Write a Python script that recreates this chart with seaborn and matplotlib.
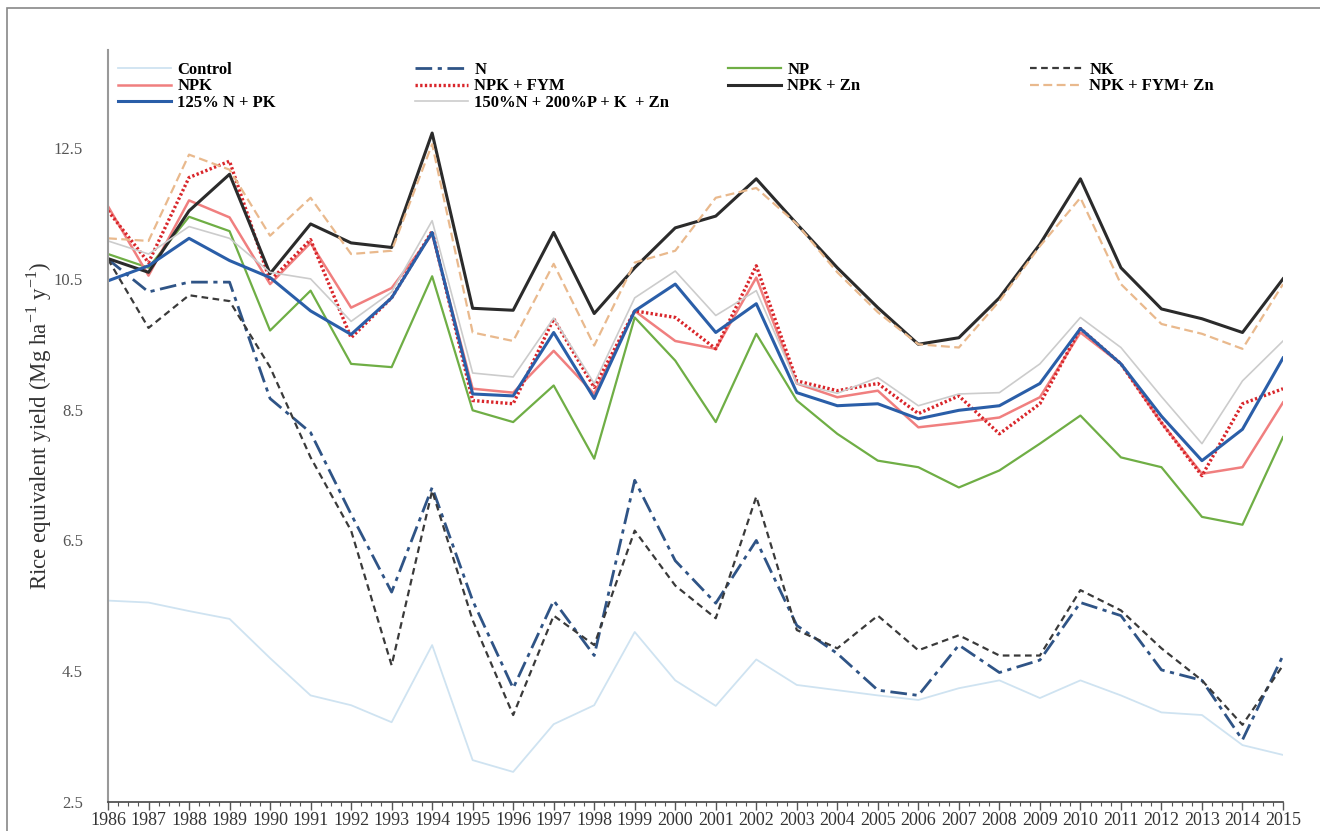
import numpy as np
import pandas as pd
import seaborn as sns
import matplotlib.pyplot as plt
from matplotlib.patches import Rectangle

years = list(range(1986, 2016))

control = [5.58, 5.55, 5.42, 5.3, 4.7, 4.13, 3.98, 3.72, 4.9, 3.14,
           2.96, 3.69, 3.98, 5.1, 4.36, 3.97, 4.68, 4.29, 4.21, 4.13,
           4.06, 4.24, 4.36, 4.09, 4.36, 4.13, 3.87, 3.83, 3.37, 3.22]
n = [10.8, 10.3, 10.45, 10.45, 8.67, 8.15, 6.9, 5.71, 7.31, 5.58,
     4.24, 5.58, 4.74, 7.42, 6.19, 5.54, 6.5, 5.2, 4.77, 4.21,
     4.13, 4.9, 4.48, 4.67, 5.55, 5.35, 4.52, 4.36, 3.45, 4.74]
np_ = [10.88, 10.67, 11.45, 11.23, 9.71, 10.32, 9.2, 9.15, 10.54, 8.49,
       8.31, 8.87, 7.75, 9.91, 9.25, 8.31, 9.66, 8.64, 8.13, 7.72,
       7.62, 7.31, 7.57, 7.98, 8.41, 7.77, 7.62, 6.86, 6.74, 8.08]
nk = [10.8, 9.75, 10.25, 10.16, 9.15, 7.77, 6.65, 4.59, 7.26, 5.28,
      3.83, 5.35, 4.9, 6.65, 5.81, 5.31, 7.17, 5.13, 4.85, 5.35,
      4.82, 5.05, 4.74, 4.74, 5.74, 5.43, 4.85, 4.36, 3.68, 4.59]
npk = [11.61, 10.55, 11.7, 11.44, 10.42, 11.05, 10.06, 10.36, 11.18, 8.82,
       8.76, 9.4, 8.74, 10.01, 9.55, 9.43, 10.52, 8.9, 8.69, 8.79,
       8.23, 8.3, 8.38, 8.69, 9.68, 9.2, 8.3, 7.52, 7.62, 8.61]
npk_fym = [11.54, 10.75, 12.05, 12.3, 10.47, 11.1, 9.6, 10.21, 11.23, 8.64,
           8.59, 9.89, 8.84, 10.01, 9.91, 9.43, 10.7, 8.94, 8.79, 8.9,
           8.44, 8.71, 8.13, 8.59, 9.74, 9.2, 8.3, 7.49, 8.59, 8.82]
npk_zn = [10.81, 10.6, 11.54, 12.1, 10.58, 11.34, 11.05, 10.98, 12.73, 10.05,
          10.02, 11.21, 9.97, 10.67, 11.28, 11.46, 12.03, 11.34, 10.67, 10.06,
          9.5, 9.6, 10.21, 11.03, 12.03, 10.67, 10.04, 9.89, 9.68, 10.5]
npk_fym_zn = [11.12, 11.08, 12.4, 12.17, 11.16, 11.74, 10.88, 10.93, 12.56, 9.68,
              9.55, 10.73, 9.48, 10.75, 10.93, 11.74, 11.89, 11.34, 10.6, 9.99,
              9.5, 9.45, 10.16, 11.0, 11.74, 10.42, 9.81, 9.66, 9.43, 10.42]
n125_pk = [10.47, 10.7, 11.12, 10.78, 10.52, 10.01, 9.65, 10.21, 11.21, 8.74,
           8.71, 9.68, 8.67, 10.01, 10.42, 9.68, 10.12, 8.76, 8.56, 8.59,
           8.36, 8.49, 8.56, 8.9, 9.74, 9.2, 8.4, 7.72, 8.2, 9.29]
n150_p200 = [11.08, 10.88, 11.3, 11.12, 10.6, 10.5, 9.85, 10.3, 11.39, 9.06,
             9.0, 9.9, 8.9, 10.21, 10.62, 9.94, 10.32, 8.9, 8.75, 8.99,
             8.56, 8.74, 8.76, 9.2, 9.91, 9.45, 8.7, 7.98, 8.94, 9.55]

labels = ['Control', 'N', 'NP', 'NK', 'NPK', 'NPK + FYM', 'NPK + Zn',
          'NPK + FYM+ Zn', '125% N + PK', '150%N + 200%P + K  + Zn']
series = [control, n, np_, nk, npk, npk_fym, npk_zn, npk_fym_zn, n125_pk, n150_p200]

colors = ['#cfe3f1', '#2f5486', '#6fae45', '#3a3a3a', '#f07f7f', '#d9262b',
          '#2b2b2b', '#e9b98d', '#2a5ea8', '#cccccc']
widths = [1.3, 2.0, 1.6, 1.6, 1.8, 2.4, 2.2, 1.6, 2.2, 1.2]
dash_list = [None, (6, 2, 1.5, 2), None, (3, 2), None, (0.7, 0.7), None, (4, 2), None, None]

plt.rcParams['font.family'] = ['Liberation Serif', 'DejaVu Serif']
plt.rcParams['mathtext.fontset'] = 'custom'
plt.rcParams['mathtext.rm'] = 'Liberation Serif'

fig = plt.figure(figsize=(13.2, 8.31), dpi=100)
ax = fig.add_axes([108 / 1320, 1 - 802 / 831, (1283 - 108) / 1320, (802 - 50) / 831])

handles = []
for lab, vals, c, w, d in zip(labels, series, colors, widths, dash_list):
    df = pd.DataFrame({'year': years, 'yield': vals})
    sns.lineplot(data=df, x='year', y='yield', ax=ax, color=c, linewidth=w, legend=False)
    line = ax.lines[-1]
    if d is not None:
        line.set_dashes(d)
    line.set_label(lab)
    handles.append(line)

if ax.get_legend() is not None:
    ax.get_legend().remove()

ax.set_xlim(1986, 2015)
ax.set_ylim(2.5, 14.0)
ax.set_xticks(years)
ax.set_xticks(np.arange(1986, 2015.01, 0.25), minor=True)
ax.set_yticks([2.5, 4.5, 6.5, 8.5, 10.5, 12.5])
ax.tick_params(axis='x', which='major', length=6, width=1, color='#555555',
               labelsize=13, labelcolor='#333333', pad=1)
ax.tick_params(axis='x', which='minor', length=3, width=0.8, color='#555555')
ax.tick_params(axis='y', length=0, labelsize=12, labelcolor='#555555', pad=18)
ax.set_xlabel('')
ax.set_ylabel(r'Rice equivalent yield (Mg ha$^{\mathregular{-1}}$ y$^{\mathregular{-1}}$)',
              fontsize=16.5, color='#333333', labelpad=0)
for s in ['top', 'right']:
    ax.spines[s].set_visible(False)
ax.spines['left'].set_color('#999999')
ax.spines['left'].set_linewidth(1.5)
ax.spines['bottom'].set_color('#444444')
ax.spines['bottom'].set_linewidth(1.2)

# legend drawn as four separate columns, row-major like the original
col_x = [118, 415, 728, 1030]
groups = [[0, 4, 8], [1, 5, 9], [2, 6], [3, 7]]
for cx, g in zip(col_x, groups):
    leg = fig.legend([handles[i] for i in g], [labels[i] for i in g],
                     loc='upper left', bbox_to_anchor=(cx / 1320, 1 - 62 / 831),
                     frameon=False, borderaxespad=0, borderpad=0,
                     handlelength=3.2, handletextpad=0.35, labelspacing=0.02,
                     prop={'family': 'Liberation Serif', 'weight': 'bold', 'size': 12})

fig.patches.append(Rectangle((7 / 1320, -0.01), 1.1, 1.01 - 8 / 831,
                             transform=fig.transFigure, fill=False,
                             edgecolor='#888888', linewidth=1.2))

fig.savefig('out.png', dpi=100)
